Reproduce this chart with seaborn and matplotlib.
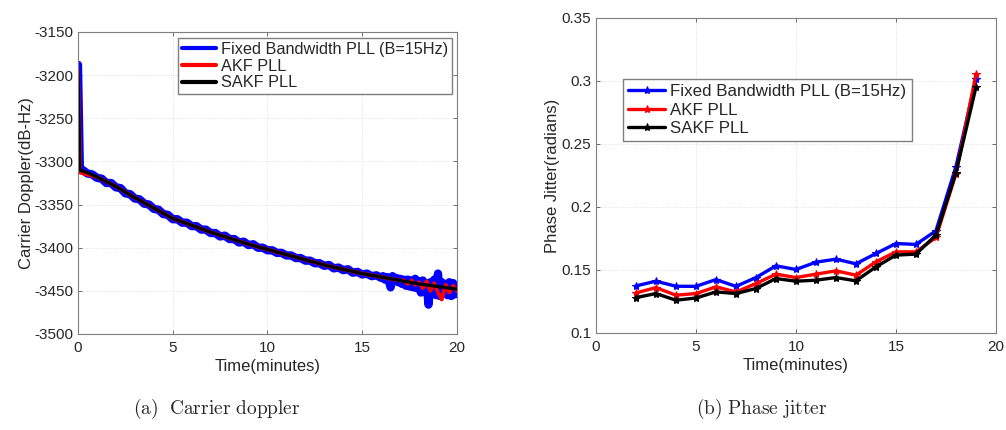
import numpy as np
import pandas as pd
import matplotlib
matplotlib.use("Agg")
import matplotlib.pyplot as plt
import seaborn as sns

# ---- (a) carrier doppler data ----
sakf_t = [0, 0.1, 0.5, 1, 2, 3, 4, 5, 6, 7, 8, 9, 10, 11, 12, 13, 14, 15, 16, 17, 18, 19, 20]
sakf_dop = [-3195, -3310, -3313, -3318, -3329, -3342, -3354, -3366, -3374, -3382, -3389, -3396,
            -3402, -3408, -3414, -3420, -3425, -3430, -3434, -3438, -3442, -3445, -3448]

akf_t = [0, 0.12, 1, 2, 3, 4, 5, 6, 7, 8, 9, 10, 11, 12, 13, 14, 15, 16, 17,
         17.2, 17.4, 17.6, 17.8, 18.0, 18.2, 18.4, 18.6, 18.8, 19.0, 19.2, 19.4, 19.6, 19.8, 20.0]
akf_dop = [-3195, -3313, -3318, -3329, -3342, -3354, -3366, -3374, -3382, -3389, -3396, -3402,
           -3408, -3414, -3420, -3425, -3430, -3434, -3438,
           -3438, -3442, -3438, -3443, -3440, -3447, -3439, -3450, -3441, -3452, -3460, -3443,
           -3452, -3444, -3450]

fixed_t = [0, 0.1] + list(np.round(np.arange(0.25, 16.01, 0.25), 2)) + list(np.round(np.arange(16.1, 20.01, 0.1), 1))
fixed_dop = [-3188, -3308,
             -3310, -3314, -3315, -3319, -3320, -3325, -3325, -3330, -3331, -3337, -3338, -3343,
             -3344, -3349, -3350, -3355, -3356, -3361, -3362, -3367, -3367, -3371, -3371, -3375,
             -3375, -3379, -3379, -3383, -3383, -3387, -3386, -3390, -3390, -3394, -3393, -3397,
             -3396, -3400, -3400, -3403, -3403, -3406, -3406, -3409, -3409, -3412, -3412, -3415,
             -3415, -3418, -3418, -3421, -3420, -3424, -3423, -3426, -3425, -3429, -3428, -3431,
             -3430, -3433, -3432, -3435,
             -3433, -3437, -3434, -3438, -3446, -3433, -3438, -3435, -3440, -3436,
             -3442, -3437, -3444, -3437, -3445, -3438, -3446, -3436, -3447, -3439,
             -3452, -3438, -3450, -3441, -3466, -3440, -3453, -3437, -3455, -3430,
             -3456, -3440, -3452, -3442, -3455, -3440, -3456, -3441, -3454, -3446]

# ---- (b) phase jitter data ----
minutes = [2, 3, 4, 5, 6, 7, 8, 9, 10, 11, 12, 13, 14, 15, 16, 17, 18, 19]
jit_fixed = [0.1374, 0.1411, 0.1371, 0.1370, 0.1424, 0.1370, 0.1440, 0.1533, 0.1504, 0.1562,
             0.1586, 0.1549, 0.1631, 0.1710, 0.1703, 0.1811, 0.2320, 0.3015]
jit_akf = [0.1318, 0.1360, 0.1300, 0.1313, 0.1366, 0.1326, 0.1392, 0.1467, 0.1440, 0.1467,
           0.1493, 0.1459, 0.1565, 0.1644, 0.1644, 0.1758, 0.2262, 0.3052]
jit_sakf = [0.1281, 0.1313, 0.1260, 0.1278, 0.1326, 0.1313, 0.1353, 0.1432, 0.1411, 0.1419,
            0.1440, 0.1414, 0.1525, 0.1618, 0.1626, 0.1777, 0.2273, 0.2951]

labels = ["Fixed Bandwidth PLL (B=15Hz)", "AKF PLL", "SAKF PLL"]
colors = ["#0000ff", "#ff0000", "#000000"]

sns.set_theme(style="ticks")
plt.rcParams["font.family"] = ["Liberation Sans", "DejaVu Sans"]
plt.rcParams["mathtext.fontset"] = "cm"
plt.rcParams["axes.unicode_minus"] = False

fig = plt.figure(figsize=(10.06, 4.30), dpi=100)
ax1 = fig.add_axes([0.0775, 0.2233, 0.3767, 0.7023])
ax2 = fig.add_axes([0.5924, 0.2256, 0.3976, 0.7326])

# left panel
sns.lineplot(x=fixed_t, y=fixed_dop, ax=ax1, color=colors[0], lw=6, sort=False, estimator=None, label=labels[0])
sns.lineplot(x=akf_t, y=akf_dop, ax=ax1, color=colors[1], lw=2.8, sort=False, estimator=None, label=labels[1])
sns.lineplot(x=sakf_t, y=sakf_dop, ax=ax1, color=colors[2], lw=2.4, sort=False, estimator=None, label=labels[2])
ax1.set_xlim(0, 20)
ax1.set_ylim(-3500, -3150)
ax1.set_xticks([0, 5, 10, 15, 20])
ax1.set_yticks(np.arange(-3500, -3149, 50))
ax1.set_xlabel("Time(minutes)", fontsize=12, labelpad=3)
ax1.set_ylabel("Carrier Doppler(dB-Hz)", fontsize=12, labelpad=0)
leg1 = ax1.legend(loc="upper right", bbox_to_anchor=(0.987, 0.98), borderaxespad=0, fontsize=11.7,
                  frameon=True, fancybox=False, framealpha=1, edgecolor="#7f7f7f",
                  handlelength=2.1, handletextpad=0.3, labelspacing=0.1, borderpad=0.25)
for h in leg1.get_lines():
    h.set_linewidth(3)

# right panel
jit_df = pd.DataFrame({"minute": minutes * 3,
                       "jitter": jit_fixed + jit_akf + jit_sakf,
                       "method": [labels[0]] * 18 + [labels[1]] * 18 + [labels[2]] * 18})
for lab, col in zip(labels, colors):
    sub = jit_df[jit_df["method"] == lab]
    sns.lineplot(data=sub, x="minute", y="jitter", ax=ax2, color=col, lw=2.4,
                 marker="*", markersize=6, markeredgecolor=col, label=lab)
ax2.set_xlim(0, 20)
ax2.set_ylim(0.1, 0.35)
ax2.set_xticks([0, 5, 10, 15, 20])
ax2.set_yticks([0.1, 0.15, 0.2, 0.25, 0.3, 0.35])
ax2.set_yticklabels(["0.1", "0.15", "0.2", "0.25", "0.3", "0.35"])
ax2.set_xlabel("Time(minutes)", fontsize=12, labelpad=3)
ax2.set_ylabel("Phase Jitter(radians)", fontsize=12, labelpad=1)
ax2.legend(loc="upper left", bbox_to_anchor=(0.0675, 0.806), borderaxespad=0, fontsize=12.2,
           frameon=True, fancybox=False, framealpha=1, edgecolor="#7f7f7f",
           handlelength=2.2, handletextpad=0.3, labelspacing=0.2, borderpad=0.3)

for ax in (ax1, ax2):
    ax.grid(True, color="#d9d9d9", lw=0.6, ls=":")
    ax.tick_params(axis="x", pad=5)
    ax.tick_params(direction="in", length=3, width=0.6, color="#555555", labelsize=11,
                   top=True, right=True)
    for s in ax.spines.values():
        s.set_color("#7f7f7f")
        s.set_linewidth(0.8)
        s.set_visible(True)

fig.text(0.216, 0.05, r"$\mathrm{(a)\ \ Carrier\ doppler}$", ha="center", va="center", fontsize=14)
fig.text(0.757, 0.05, r"$\mathrm{(b)\ Phase\ jitter}$", ha="center", va="center", fontsize=14)

fig.savefig("out.png", dpi=100)
